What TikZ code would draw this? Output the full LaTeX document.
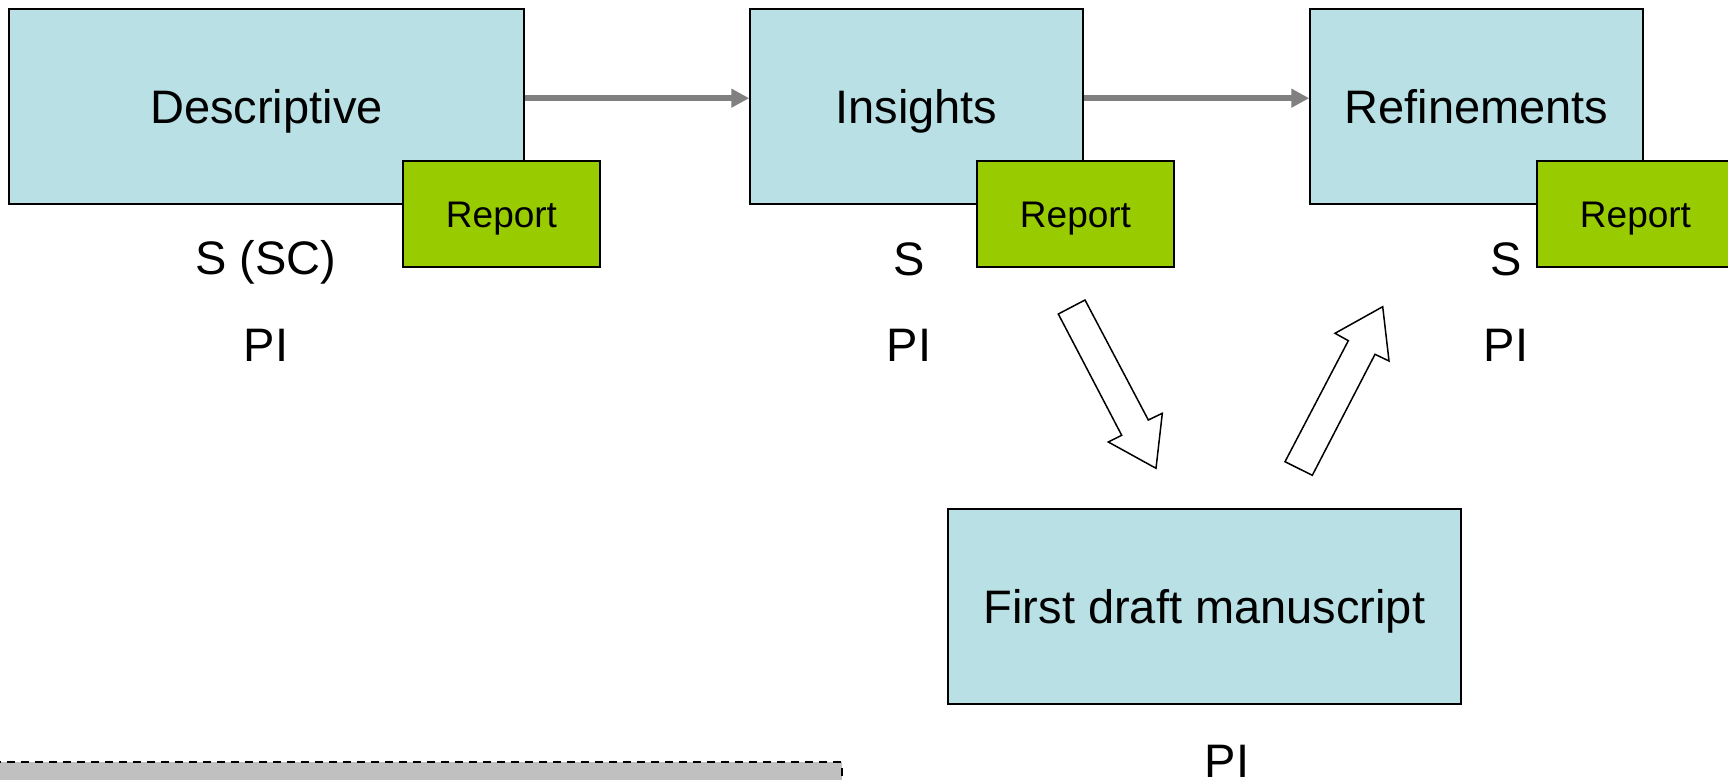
\documentclass[tikz,border=0pt]{standalone}
\usepackage{fontspec}
\setmainfont{Liberation Sans}
\usetikzlibrary{arrows.meta}
\definecolor{boxblue}{RGB}{185,224,228}
\definecolor{repgreen}{RGB}{153,204,0}
\definecolor{arrgray}{RGB}{128,128,128}
\definecolor{bargray}{RGB}{192,192,192}
\tikzset{
  bigbox/.style={draw=black, line width=0.75pt, fill=boxblue, inner sep=0pt,
    font=\fontsize{23.5}{28}\selectfont, text height=16.8pt, text depth=0pt},
  repbox/.style={draw=black, line width=0.75pt, fill=repgreen, inner sep=0pt,
    minimum width=98.5pt, minimum height=53pt,
    font=\fontsize{18.5}{22}\selectfont, text height=13.2pt, text depth=0pt},
  lbl/.style={anchor=base, inner sep=0pt, font=\fontsize{23.5}{28}\selectfont},
  flowarrow/.style={draw=arrgray, line width=3pt, -{Triangle[length=9pt,width=9pt]}},
  hollow/.style={draw=black, line width=0.75pt, fill=white, line join=miter},
}
\begin{document}
\begin{tikzpicture}[x=0.5pt,y=-0.5pt]
\useasboundingbox (0,0) rectangle (1728,780);
\clip (0,0) rectangle (1728,780);
% main boxes
\node[bigbox, minimum width=257.5pt, minimum height=97.5pt] (desc) at (266.5,106.5) {Descriptive};
\node[bigbox, minimum width=166.5pt, minimum height=97.5pt] (ins) at (916.5,106.5) {Insights};
\node[bigbox, minimum width=166.5pt, minimum height=97.5pt] (ref) at (1476.5,106.5) {Refinements};
\node[bigbox, minimum width=256.5pt, minimum height=97.5pt] (draft) at (1204.5,606.5) {First draft manuscript};
% report boxes
\node[repbox] (rep1) at (501.5,214) {Report};
\node[repbox] (rep2) at (1075.5,214) {Report};
\node[repbox] (rep3) at (1635.5,214) {Report};
% flow arrows
\draw[flowarrow] ([yshift=4.15pt]desc.east) -- ([yshift=4.15pt]ins.west);
\draw[flowarrow] ([yshift=4.15pt]ins.east) -- ([yshift=4.15pt]ref.west);
% labels
\node[lbl] (s1) at (266,275) {S (SC)};
\node[lbl] (pi1) at (266,361.7) {PI};
\node[lbl] (s2) at (909,275.5) {S};
\node[lbl] (pi2) at (909,361.7) {PI};
\node[lbl] (s3) at (1506,275.5) {S};
\node[lbl] (pi3) at (1506,361.7) {PI};
\node[lbl] (pi4) at (1227,777) {PI};
% hollow block arrows
\draw[hollow] (1058.3,314) -- (1085,300) -- (1148.3,420) -- (1162.3,413.3)
  -- (1156,468.3) -- (1108.3,442) -- (1121.7,435.3) -- cycle;
\draw[hollow] (1285,461.7) -- (1312.3,475.3) -- (1375,354.3) -- (1389,361)
  -- (1382.7,306.7) -- (1335,333.3) -- (1348.3,340.7) -- cycle;
% bottom bar
\draw[fill=bargray, draw=black, line width=1pt, dash pattern=on 4pt off 3pt]
  (-6,762.3) rectangle (842,800);
\end{tikzpicture}
\end{document}
